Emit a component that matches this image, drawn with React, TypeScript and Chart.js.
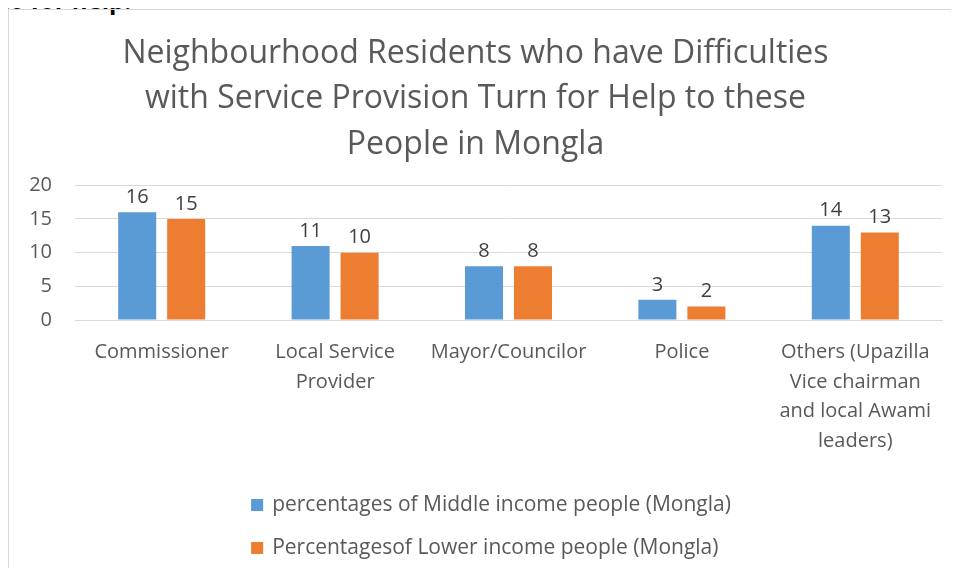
import React, { useEffect, useRef, useState } from "react";
import { Chart, registerables } from "chart.js";
Chart.register(...registerables);

const titleLines = [
  "Neighbourhood Residents who have Difficulties",
  "with Service Provision Turn for Help to these",
  "People in Mongla",
];
const categories = [
  ["Commissioner"],
  ["Local Service", "Provider"],
  ["Mayor/Councilor"],
  ["Police"],
  ["Others (Upazilla", "Vice chairman", "and local Awami", "leaders)"],
];
const seriesNames = [
  "percentages of Middle income people (Mongla)",
  "Percentagesof Lower income people (Mongla)",
];
const middleIncome = [16, 11, 8, 3, 14];
const lowerIncome = [15, 10, 8, 2, 13];
const yMin = 0;
const yMax = 20;
const yStep = 5;
const colors = ["#5b9bd5", "#ed7d31"];

const FONT = "'Open Sans', Lato, sans-serif";
const TEXT = "#595959";

const dataLabels = {
  id: "dataLabels",
  afterDatasetsDraw(chart: any) {
    const ctx = chart.ctx;
    ctx.save();
    ctx.font = `20px ${FONT}`;
    ctx.fillStyle = "#404040";
    ctx.textAlign = "center";
    ctx.textBaseline = "middle";
    chart.data.datasets.forEach((ds: any, i: number) => {
      const meta = chart.getDatasetMeta(i);
      meta.data.forEach((bar: any, j: number) => {
        ctx.fillText(String(ds.data[j]), bar.x, bar.y - 15);
      });
    });
    ctx.restore();
  },
};

const customLegend = {
  id: "customLegend",
  afterDraw(chart: any) {
    const ctx = chart.ctx;
    ctx.save();
    ctx.font = `21px ${FONT}`;
    const box = 12;
    const gap = 9;
    const widths = chart.data.datasets.map((d: any) => ctx.measureText(d.label).width);
    const maxW = Math.max(...widths) + box + gap;
    const left = chart.width / 2 - maxW / 2 + 2;
    const rows = [chart.chartArea.bottom + 185, chart.chartArea.bottom + 228];
    chart.data.datasets.forEach((d: any, i: number) => {
      const cy = rows[i];
      ctx.fillStyle = d.backgroundColor;
      ctx.fillRect(left, cy - box / 2, box, box);
      ctx.fillStyle = TEXT;
      ctx.textAlign = "left";
      ctx.textBaseline = "middle";
      ctx.fillText(d.label, left + box + gap, cy);
    });
    ctx.restore();
  },
};

export default function App() {
  const ref = useRef<HTMLCanvasElement>(null);
  const [err, setErr] = useState("");
  useEffect(() => {
    let chart: any = null;
    try {
      chart = new Chart(ref.current!, {
        type: "bar",
        data: {
          labels: categories,
          datasets: [
            { label: seriesNames[0], data: middleIncome, backgroundColor: colors[0], categoryPercentage: 0.565, barPercentage: 0.776 },
            { label: seriesNames[1], data: lowerIncome, backgroundColor: colors[1], categoryPercentage: 0.565, barPercentage: 0.776 },
          ],
        },
        options: {
          responsive: false,
          animation: false,
          layout: { padding: { left: 0, right: 27, top: 0, bottom: 120 } },
          plugins: {
            legend: { display: false },
            tooltip: { enabled: false },
            title: {
              display: true,
              text: titleLines,
              color: TEXT,
              font: { family: FONT, size: 32, weight: "normal", lineHeight: 1.42 },
              padding: { top: 21, bottom: 18 },
            },
          },
          scales: {
            x: {
              grid: { display: false, drawTicks: false },
              border: { display: true, color: "#d9d9d9" },
              ticks: { color: TEXT, font: { family: FONT, size: 20, lineHeight: 1.475 }, padding: 18, maxRotation: 0, autoSkip: false },
              afterFit: (s: any) => { s.height = 140; },
            },
            y: {
              min: yMin,
              max: yMax,
              grid: { color: "#d9d9d9", drawTicks: false },
              border: { display: false },
              ticks: { stepSize: yStep, color: TEXT, font: { family: FONT, size: 20 }, padding: 23 },
              afterFit: (s: any) => { s.width = 66; },
            },
          },
        },
        plugins: [dataLabels, customLegend],
      } as any);
    } catch (e: any) {
      setErr(String(e && e.stack ? e.stack : e));
    }
    return () => { if (chart) chart.destroy(); };
  }, []);
  return (
    <div style={{ position: "relative", height: 560 }}>
      <div style={{ position: "absolute", left: -9, top: -25, fontFamily: FONT, fontWeight: "bold", fontSize: 24, color: "#000", whiteSpace: "nowrap" }}>
        to for help.
      </div>
      <div style={{ position: "absolute", left: 0, top: 1, border: "1px solid #d9d9d9", width: 960, height: 580, background: "transparent" }}>
        <canvas ref={ref} width={960} height={570} />
      </div>
      {err ? <pre style={{ position: "absolute", top: 20, left: 20, color: "red", fontSize: 10 }}>{err}</pre> : null}
    </div>
  );
}
